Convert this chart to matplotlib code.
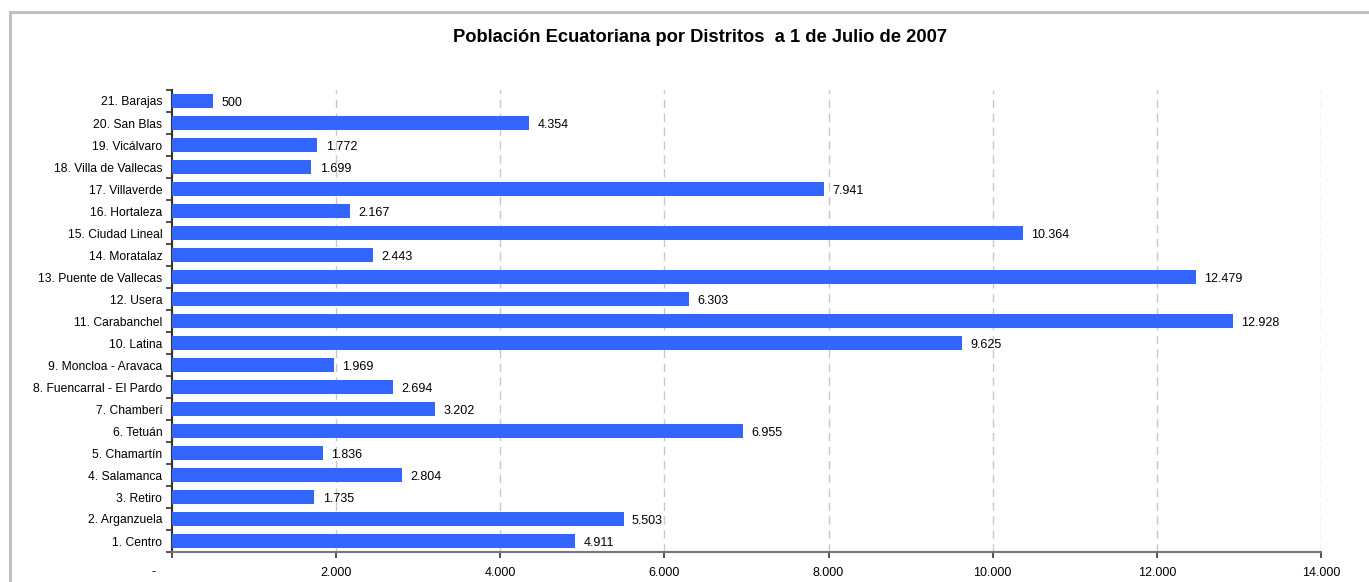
import numpy as np
import matplotlib
matplotlib.use('Agg')
import matplotlib.pyplot as plt
from matplotlib.patches import Rectangle
from matplotlib.ticker import FuncFormatter

plt.rcParams['font.family'] = ['Liberation Sans', 'DejaVu Sans']

distritos = ['1. Centro', '2. Arganzuela', '3. Retiro', '4. Salamanca', '5. Chamartín',
             '6. Tetuán', '7. Chamberí', '8. Fuencarral - El Pardo', '9. Moncloa - Aravaca',
             '10. Latina', '11. Carabanchel', '12. Usera', '13. Puente de Vallecas',
             '14. Moratalaz', '15. Ciudad Lineal', '16. Hortaleza', '17. Villaverde',
             '18. Villa de Vallecas', '19. Vicálvaro', '20. San Blas', '21. Barajas']
poblacion = [4911, 5503, 1735, 2804, 1836, 6955, 3202, 2694, 1969, 9625, 12928,
             6303, 12479, 2443, 10364, 2167, 7941, 1699, 1772, 4354, 500]
xticks = [0, 2000, 4000, 6000, 8000, 10000, 12000, 14000]


def miles(v):
    return f'{int(v):,}'.replace(',', '.')


fig = plt.figure(figsize=(13.69, 5.82), dpi=100)
# marco gris del grafico
fig.patches.append(Rectangle((10 / 1369, -0.2), 1.2, (582 - 12) / 582 + 0.2,
                             transform=fig.transFigure, fill=False,
                             edgecolor='#c0c0c0', linewidth=2.2))

ax = fig.add_axes([172 / 1369, 30 / 582, (1321 - 172) / 1369, (552 - 90) / 582])
y = np.arange(len(distritos))
ax.barh(y, poblacion, height=0.68, color='#3366ff', zorder=3)

for yi, v in zip(y, poblacion):
    ax.annotate(miles(v), (v, yi), xytext=(6, 0), textcoords='offset points',
                va='center_baseline', ha='left', fontsize=9)

ax.set_xlim(0, 14000)
ax.set_ylim(-0.5, len(distritos) - 0.5)
ax.set_xticks(xticks)
ax.xaxis.set_major_formatter(FuncFormatter(lambda v, p: '' if v == 0 else miles(v)))
# el cero aparece como "-" un poco a la izquierda
ax.annotate('-', (0, 0), xycoords='axes fraction', xytext=(-13, -10),
            textcoords='offset points', ha='center', va='top', fontsize=9)

ax.set_yticks(y)
ax.set_yticklabels(distritos, fontsize=8.7)
ax.set_yticks(np.arange(-0.5, len(distritos)), minor=True)
ax.tick_params(axis='y', which='major', length=0, pad=7)
ax.tick_params(axis='y', which='minor', length=4, width=1.2, color='#333333')
ax.tick_params(axis='x', length=4, width=1.2, color='#333333', labelsize=9, pad=7)

ax.grid(axis='x', color='#c8c8c8', linestyle=(0, (6, 4)), linewidth=1, zorder=0)
for s in ['top', 'right']:
    ax.spines[s].set_visible(False)
ax.spines['left'].set_color('#333333')
ax.spines['bottom'].set_color('#777777')
ax.spines['left'].set_linewidth(1.5)
ax.spines['bottom'].set_linewidth(1.5)

fig.text(700 / 1369, 1 - 37 / 582, 'Población Ecuatoriana por Distritos  a 1 de Julio de 2007',
         ha='center', va='center', fontsize=13.2, fontweight='bold')

fig.savefig('out.png', dpi=100)
